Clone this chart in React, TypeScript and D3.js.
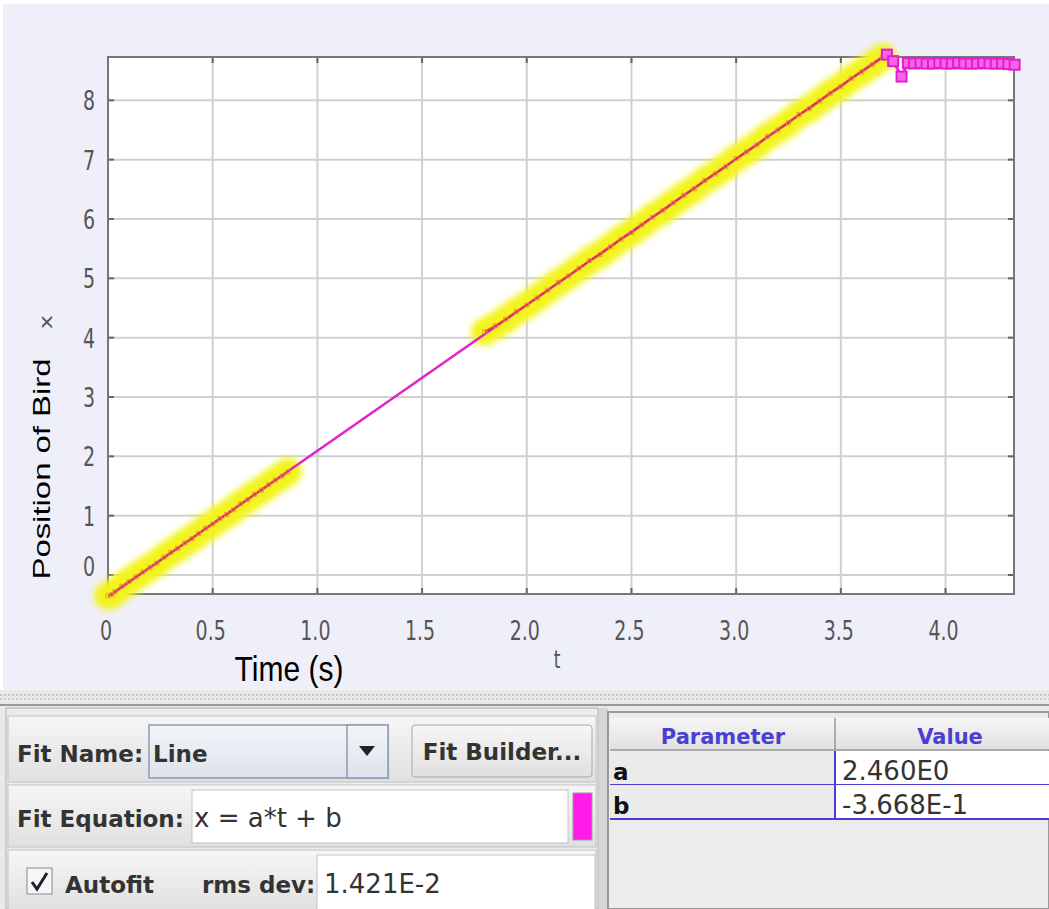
import * as d3 from "d3";

// ticks
const tTicks = [0, 0.5, 1.0, 1.5, 2.0, 2.5, 3.0, 3.5, 4.0];
const tTickLabels = ["0", "0.5", "1.0", "1.5", "2.0", "2.5", "3.0", "3.5", "4.0"];
const xTicks = [0, 1, 2, 3, 4, 5, 6, 7, 8];

// first selected run of points (t in s, x)
const run1T = [0, 0.02, 0.033, 0.067, 0.1, 0.133, 0.167, 0.2, 0.233, 0.267, 0.3, 0.333, 0.367, 0.4, 0.433, 0.467, 0.5, 0.533, 0.567, 0.6, 0.633, 0.667, 0.7, 0.733, 0.767, 0.8, 0.833, 0.86];
const run1X = [-0.35, -0.33, -0.28, -0.19, -0.11, -0.03, 0.05, 0.13, 0.2, 0.3, 0.38, 0.45, 0.54, 0.61, 0.7, 0.79, 0.86, 0.95, 1.02, 1.1, 1.2, 1.27, 1.36, 1.43, 1.52, 1.6, 1.67, 1.74];

// second selected run
const run2T = [1.8, 1.85, 1.9, 1.95, 2.0, 2.05, 2.1, 2.15, 2.2, 2.25, 2.3, 2.35, 2.4, 2.45, 2.5, 2.55, 2.6, 2.65, 2.7, 2.75, 2.8, 2.85, 2.9, 2.95, 3.0, 3.05, 3.1, 3.15, 3.2, 3.25, 3.3, 3.35, 3.4, 3.45, 3.5, 3.55, 3.6, 3.65, 3.7];
const run2X = [4.1, 4.2, 4.31, 4.44, 4.55, 4.67, 4.8, 4.93, 5.04, 5.17, 5.3, 5.4, 5.53, 5.66, 5.77, 5.9, 6.03, 6.14, 6.27, 6.4, 6.51, 6.65, 6.76, 6.88, 7.02, 7.13, 7.25, 7.39, 7.5, 7.62, 7.76, 7.86, 7.99, 8.12, 8.23, 8.37, 8.48, 8.6, 8.72];

// remaining (unselected) points after landing
const restT = [3.72, 3.75, 3.79, 3.82, 3.85, 3.88, 3.91, 3.94, 3.97, 4.0, 4.03, 4.06, 4.09, 4.12, 4.15, 4.18, 4.21, 4.24, 4.27, 4.3, 4.33];
const restX = [8.77, 8.66, 8.4, 8.63, 8.62, 8.63, 8.62, 8.62, 8.63, 8.62, 8.62, 8.63, 8.62, 8.62, 8.62, 8.63, 8.62, 8.62, 8.62, 8.61, 8.6];

// fit
const fitA = 2.46;
const fitB = -0.3668;
const paramNames = ["a", "b"];
const paramValues = ["2.460E0", "-3.668E-1"];

const W = 1049;
const H = 909;
const left = 108, right = 1014, top = 57, bottom = 594;
const stretch = 1.42; // screenshot is squashed horizontally

const tScale = d3.scaleLinear().domain([0, 4.327]).range([left, right]);
const xScale = d3.scaleLinear().domain([-0.32, 8.73]).range([bottom, top]);

const zip = (a: number[], b: number[]) => a.map((v, i) => [v, b[i]] as [number, number]);

const line = d3.line<[number, number]>()
    .x(d => tScale(d[0]))
    .y(d => xScale(d[1]));

const tickFont = "'DejaVu Sans', sans-serif";
const uiFont = "'DejaVu Sans', sans-serif";
const titleFont = "'Liberation Sans', Arial, sans-serif";

export default function App() {
    const run1 = zip(run1T, run1X);
    const run2 = zip(run2T, run2X);
    const rest = zip(restT, restX);
    const fitPts: [number, number][] = tScale.domain().map(t => [t, fitA * t + fitB]);

    return (
        <svg width={W} height={H} style={{ position: "absolute", left: 0, top: 0, background: "#fff" }}>
            <defs>
                <clipPath id="plotTight">
                    <rect x={left} y={top} width={right - left} height={bottom - top} />
                </clipPath>
                <filter id="soft" x="-20%" y="-20%" width="140%" height="140%">
                    <feGaussianBlur stdDeviation="3" />
                </filter>
                <linearGradient id="btn" x1="0" y1="0" x2="0" y2="1">
                    <stop offset="0" stopColor="#f6f6f6" />
                    <stop offset="1" stopColor="#e0e0e0" />
                </linearGradient>
                <linearGradient id="combo" x1="0" y1="0" x2="0" y2="1">
                    <stop offset="0" stopColor="#f2f4f8" />
                    <stop offset="1" stopColor="#dde3ec" />
                </linearGradient>
            </defs>

            {/* chart background */}
            <rect x={3} y={4} width={W - 3} height={686} fill="#efeff9" />
            <rect x={left} y={top} width={right - left} height={bottom - top} fill="#fff" />

            {/* grid */}
            {tTicks.map(t => (
                <line key={"gt" + t} x1={tScale(t)} x2={tScale(t)} y1={top} y2={bottom} stroke="#d0d0d0" strokeWidth={2} />
            ))}
            {xTicks.map(v => (
                <line key={"gx" + v} x1={left} x2={right} y1={xScale(v)} y2={xScale(v)} stroke="#d0d0d0" strokeWidth={2} />
            ))}

            {/* tick marks on frame */}
            {tTicks.map(t => (
                <g key={"tm" + t} stroke="#666" strokeWidth={2}>
                    <line x1={tScale(t)} x2={tScale(t)} y1={top} y2={top + 6} />
                    <line x1={tScale(t)} x2={tScale(t)} y1={bottom} y2={bottom - 6} />
                </g>
            ))}
            {xTicks.map(v => (
                <g key={"xm" + v} stroke="#666" strokeWidth={2}>
                    <line x1={left} x2={left + 6} y1={xScale(v)} y2={xScale(v)} />
                    <line x1={right} x2={right - 6} y1={xScale(v)} y2={xScale(v)} />
                </g>
            ))}

            {/* frame */}
            <rect x={left} y={top} width={right - left} height={bottom - top} fill="none" stroke="#777" strokeWidth={2} />

            {/* tick labels */}
            {tTicks.map((t, i) => (
                <text key={"tl" + t} transform={`translate(${tScale(t) - 2},640) scale(1,${stretch})`} textAnchor="middle" fontFamily={tickFont} fontSize={19} fill="#555">
                    {tTickLabels[i]}
                </text>
            ))}
            {xTicks.map(v => (
                <text key={"xl" + v} transform={`translate(95,${Math.min(xScale(v), 566) + 10}) scale(1,${stretch})`} textAnchor="end" fontFamily={tickFont} fontSize={19} fill="#555">
                    {v}
                </text>
            ))}

            {/* axis variable names */}
            <text transform={`translate(557,668) scale(1,${stretch})`} textAnchor="middle" fontFamily={tickFont} fontSize={17} fill="#555">t</text>
            <text transform={`translate(52,322) rotate(-90) scale(${stretch},1)`} textAnchor="middle" fontFamily={tickFont} fontSize={17} fill="#555">x</text>

            {/* user axis titles */}
            <text transform="translate(289,681) scale(1,1.15)" textAnchor="middle" fontFamily={titleFont} fontSize={30} fill="#000">Time (s)</text>
            <text transform="translate(50,469) rotate(-90) scale(1.37,1)" textAnchor="middle" fontFamily={titleFont} fontSize={24} fill="#000">Position of Bird</text>

            {/* selection halo */}
            <g filter="url(#soft)">
                {[...run1, ...run2].map((d, i) => (
                    <circle key={"h" + i} cx={tScale(d[0])} cy={xScale(d[1])} r={14} fill="#f3f41c" />
                ))}
            </g>

            <g clipPath="url(#plotTight)">
                {/* fit line */}
                <path d={line(fitPts) ?? ""} fill="none" stroke="#e023c4" strokeWidth={2.5} />
            </g>

            {/* data trail */}
            <path d={line(run1) ?? ""} fill="none" stroke="#dc3b4a" strokeWidth={2} />
            <path d={line(run2) ?? ""} fill="none" stroke="#dc3b4a" strokeWidth={2} />
            {[...run1, ...run2].map((d, i) => (
                <rect key={"m" + i} x={tScale(d[0]) - 2} y={xScale(d[1]) - 2} width={4} height={4} fill="none" stroke="#e88a3a" strokeWidth={1} opacity={0.8} />
            ))}

            {/* unselected points */}
            <path d={line(rest) ?? ""} fill="none" stroke="#ee2ad8" strokeWidth={3} />
            {rest.map((d, i) => (
                <rect key={"r" + i} x={tScale(d[0]) - 5} y={xScale(d[1]) - 5} width={10} height={10} fill="#f566e6" stroke="#e41bd0" strokeWidth={2} />
            ))}

            {/* lower panel */}
            <rect x={0} y={690} width={W} height={H - 690} fill="#e9e9e9" />
            <line x1={0} x2={W} y1={695} y2={695} stroke="#b8b8b8" strokeWidth={1.5} strokeDasharray="2,2" />
            <line x1={0} x2={W} y1={699} y2={699} stroke="#c8c8c8" strokeWidth={1.5} strokeDasharray="2,2" />
            <line x1={0} x2={W} y1={705} y2={705} stroke="#999" strokeWidth={2} />
            <rect x={6} y={708} width={592} height={H - 708} fill="#ececec" stroke="#b0b0b0" />

            {/* row 1 */}
            <rect x={8} y={716} width={588} height={66} fill="url(#btn)" stroke="#c2c2c2" />
            <text x={17} y={762} fontFamily={uiFont} fontWeight="bold" fontSize={23} fill="#333">Fit Name:</text>
            <rect x={149} y={725} width={239} height={53} fill="url(#combo)" stroke="#8d9bb0" strokeWidth={1.5} />
            <rect x={347} y={725} width={41} height={53} fill="url(#combo)" stroke="#8d9bb0" strokeWidth={1.5} />
            <text x={153} y={762} fontFamily={uiFont} fontWeight="bold" fontSize={23} fill="#333">Line</text>
            <path d="M359,746 L375,746 L367,756 Z" fill="#222" />
            <rect x={412} y={725} width={180} height={52} rx={3} fill="url(#btn)" stroke="#a8a8a8" />
            <text x={502} y={760} textAnchor="middle" fontFamily={uiFont} fontWeight="bold" fontSize={23} fill="#333">Fit Builder...</text>

            {/* row 2 */}
            <rect x={8} y={785} width={588} height={62} fill="url(#btn)" stroke="#c2c2c2" />
            <text x={17} y={827} fontFamily={uiFont} fontWeight="bold" fontSize={23} fill="#333">Fit Equation:</text>
            <rect x={192} y={790} width={376} height={53} fill="#fff" stroke="#c4c4c4" />
            <text x={194} y={827} fontFamily={uiFont} fontSize={26} fill="#333">x = a*t + b</text>
            <rect x={573} y={793} width={19} height={47} fill="#ff1ce8" stroke="#999" />

            {/* row 3 */}
            <rect x={8} y={850} width={588} height={62} fill="url(#btn)" stroke="#c2c2c2" />
            <rect x={27} y={868} width={25} height={26} fill="#f4f6fa" stroke="#8a8a8a" />
            <path d="M32,882 L37,889 L47,873" fill="none" stroke="#222" strokeWidth={3} />
            <text x={65} y={893} fontFamily={uiFont} fontWeight="bold" fontSize={23} fill="#333">Autofit</text>
            <text x={202} y={893} fontFamily={uiFont} fontWeight="bold" fontSize={23} fill="#333">rms dev:</text>
            <rect x={317} y={855} width={278} height={60} fill="#fff" stroke="#c4c4c4" />
            <text x={324} y={893} fontFamily={uiFont} fontSize={26} fill="#333">1.421E-2</text>

            {/* parameter table */}
            <rect x={599} y={708} width={9} height={H - 708} fill="#d6d6d6" />
            <rect x={608} y={712} width={W - 608} height={H - 712} fill="#ececec" stroke="#999" strokeWidth={2} />
            <rect x={610} y={718} width={W - 610} height={32} fill="url(#btn)" />
            <line x1={610} x2={W} y1={750} y2={750} stroke="#999" strokeWidth={1.5} />
            <line x1={835} x2={835} y1={718} y2={750} stroke="#999" strokeWidth={1.5} />
            <text x={723} y={744} textAnchor="middle" fontFamily={uiFont} fontWeight="bold" fontSize={21} fill="#4a3fd2">Parameter</text>
            <text x={950} y={744} textAnchor="middle" fontFamily={uiFont} fontWeight="bold" fontSize={21} fill="#4a3fd2">Value</text>
            {paramNames.map((p, i) => {
                const y0 = 751 + i * 34;
                return (
                    <g key={p}>
                        <rect x={610} y={y0} width={225} height={33} fill="#ebebeb" />
                        <rect x={835} y={y0} width={W - 835} height={33} fill="#fff" />
                        <line x1={610} x2={W} y1={y0 + 34} y2={y0 + 34} stroke="#4a3fd2" strokeWidth={2} />
                        <line x1={835} x2={835} y1={y0} y2={y0 + 34} stroke="#4a3fd2" strokeWidth={2} />
                        <text x={613} y={y0 + 29} fontFamily={uiFont} fontWeight="bold" fontSize={23} fill="#111">{p}</text>
                        <text x={842} y={y0 + 29} fontFamily={uiFont} fontSize={26} fill="#333">{paramValues[i]}</text>
                    </g>
                );
            })}
        </svg>
    );
}
